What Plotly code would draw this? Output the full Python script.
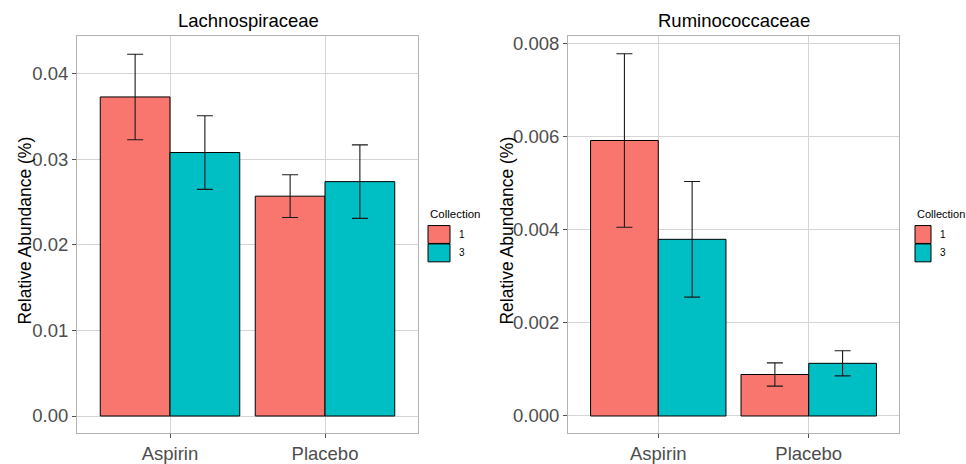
import plotly.graph_objects as go

groups = ["Aspirin", "Placebo"]
collections = ["1", "3"]
colors = {"1": "#F8766D", "3": "#00BFC4"}

# Lachnospiraceae
lach_mean = {"1": [0.0373, 0.0257], "3": [0.0308, 0.0274]}
lach_se = {"1": [0.0050, 0.0025], "3": [0.0043, 0.0043]}
# Ruminococcaceae
rum_mean = {"1": [0.00591, 0.00089], "3": [0.00379, 0.00113]}
rum_se = {"1": [0.00186, 0.00025], "3": [0.00124, 0.00027]}

lach_ticks = [0.00, 0.01, 0.02, 0.03, 0.04]
lach_ticktext = ["0.00", "0.01", "0.02", "0.03", "0.04"]
rum_ticks = [0.000, 0.002, 0.004, 0.006, 0.008]
rum_ticktext = ["0.000", "0.002", "0.004", "0.006", "0.008"]

FONT = "Liberation Sans, Arial, sans-serif"
fig = go.Figure()

for panel, (means, ses, xa, ya) in enumerate([(lach_mean, lach_se, "x", "y"), (rum_mean, rum_se, "x2", "y2")]):
    for c in collections:
        fig.add_trace(go.Bar(
            x=groups, y=means[c], xaxis=xa, yaxis=ya,
            offsetgroup=c, name=c, showlegend=False,
            marker=dict(color=colors[c], line=dict(color="black", width=1)),
            error_y=dict(type="data", array=ses[c], visible=True, color="#1a1a1a", thickness=1.1, width=8),
        ))

axis_common = dict(showgrid=True, gridcolor="#d4d4d4", gridwidth=1, showline=True, mirror=True,
                   linecolor="#b3b3b3", linewidth=1, ticks="outside", ticklen=4, tickcolor="#4d4d4d",
                   tickfont=dict(family=FONT, size=18.5, color="#4d4d4d"), zeroline=False)

W, H = 966, 464
def px(x):
    return x / W
def py(y):
    return 1 - y / H

fig.update_layout(
    width=W, height=H, margin=dict(l=0, r=0, t=0, b=0),
    paper_bgcolor="white", plot_bgcolor="white",
    barmode="group", bargap=0.1, bargroupgap=0,
    font=dict(family=FONT),
    xaxis=dict(domain=[px(77), px(418)], anchor="y", range=[-0.6, 1.6], type="category", **axis_common),
    yaxis=dict(domain=[py(433), py(33)], anchor="x", range=[-0.00201, 0.04445],
               tickvals=lach_ticks, ticktext=lach_ticktext, **axis_common),
    xaxis2=dict(domain=[px(568), px(899)], anchor="y2", range=[-0.6, 1.6], type="category", **axis_common),
    yaxis2=dict(domain=[py(433), py(33)], anchor="x2", range=[-0.000369, 0.008156],
                tickvals=rum_ticks, ticktext=rum_ticktext, **axis_common),
)

annotations = [
    dict(text="Lachnospiraceae", x=px(248), y=py(18), font=dict(size=18.5, color="black")),
    dict(text="Ruminococcaceae", x=px(734), y=py(18), font=dict(size=18.5, color="black")),
    dict(text="Relative Abundance (%)", x=px(25), y=py(229), textangle=-90, font=dict(size=17.5, color="black")),
    dict(text="Relative Abundance (%)", x=px(507), y=py(229), textangle=-90, font=dict(size=17.5, color="black")),
]
shapes = []
# legends
for (lx, kw, tx, fs) in [(428, 22, 457, 11.5), (915, 16, 938, 11)]:
    annotations.append(dict(text="Collection", x=px(lx), y=py(212), xanchor="left", font=dict(size=fs, color="black")))
    for i, c in enumerate(collections):
        y0 = 224 + i * 18.5
        shapes.append(dict(type="rect", xref="paper", yref="paper", x0=px(lx), x1=px(lx + kw),
                           y0=py(y0 + 18), y1=py(y0), fillcolor=colors[c], line=dict(color="black", width=1)))
        annotations.append(dict(text=c, x=px(tx), y=py(y0 + 9), xanchor="left", font=dict(size=10, color="black")))

for a in annotations:
    a.setdefault("xref", "paper")
    a.setdefault("yref", "paper")
    a.setdefault("showarrow", False)
    a.setdefault("xanchor", "center")
    a.setdefault("yanchor", "middle")
    a["font"]["family"] = FONT

fig.update_layout(annotations=annotations, shapes=shapes)
fig.write_html("out.html", config={"displayModeBar": False},
               post_script="document.body.style.margin='0';document.body.style.padding='0';document.body.style.overflow='hidden';")
